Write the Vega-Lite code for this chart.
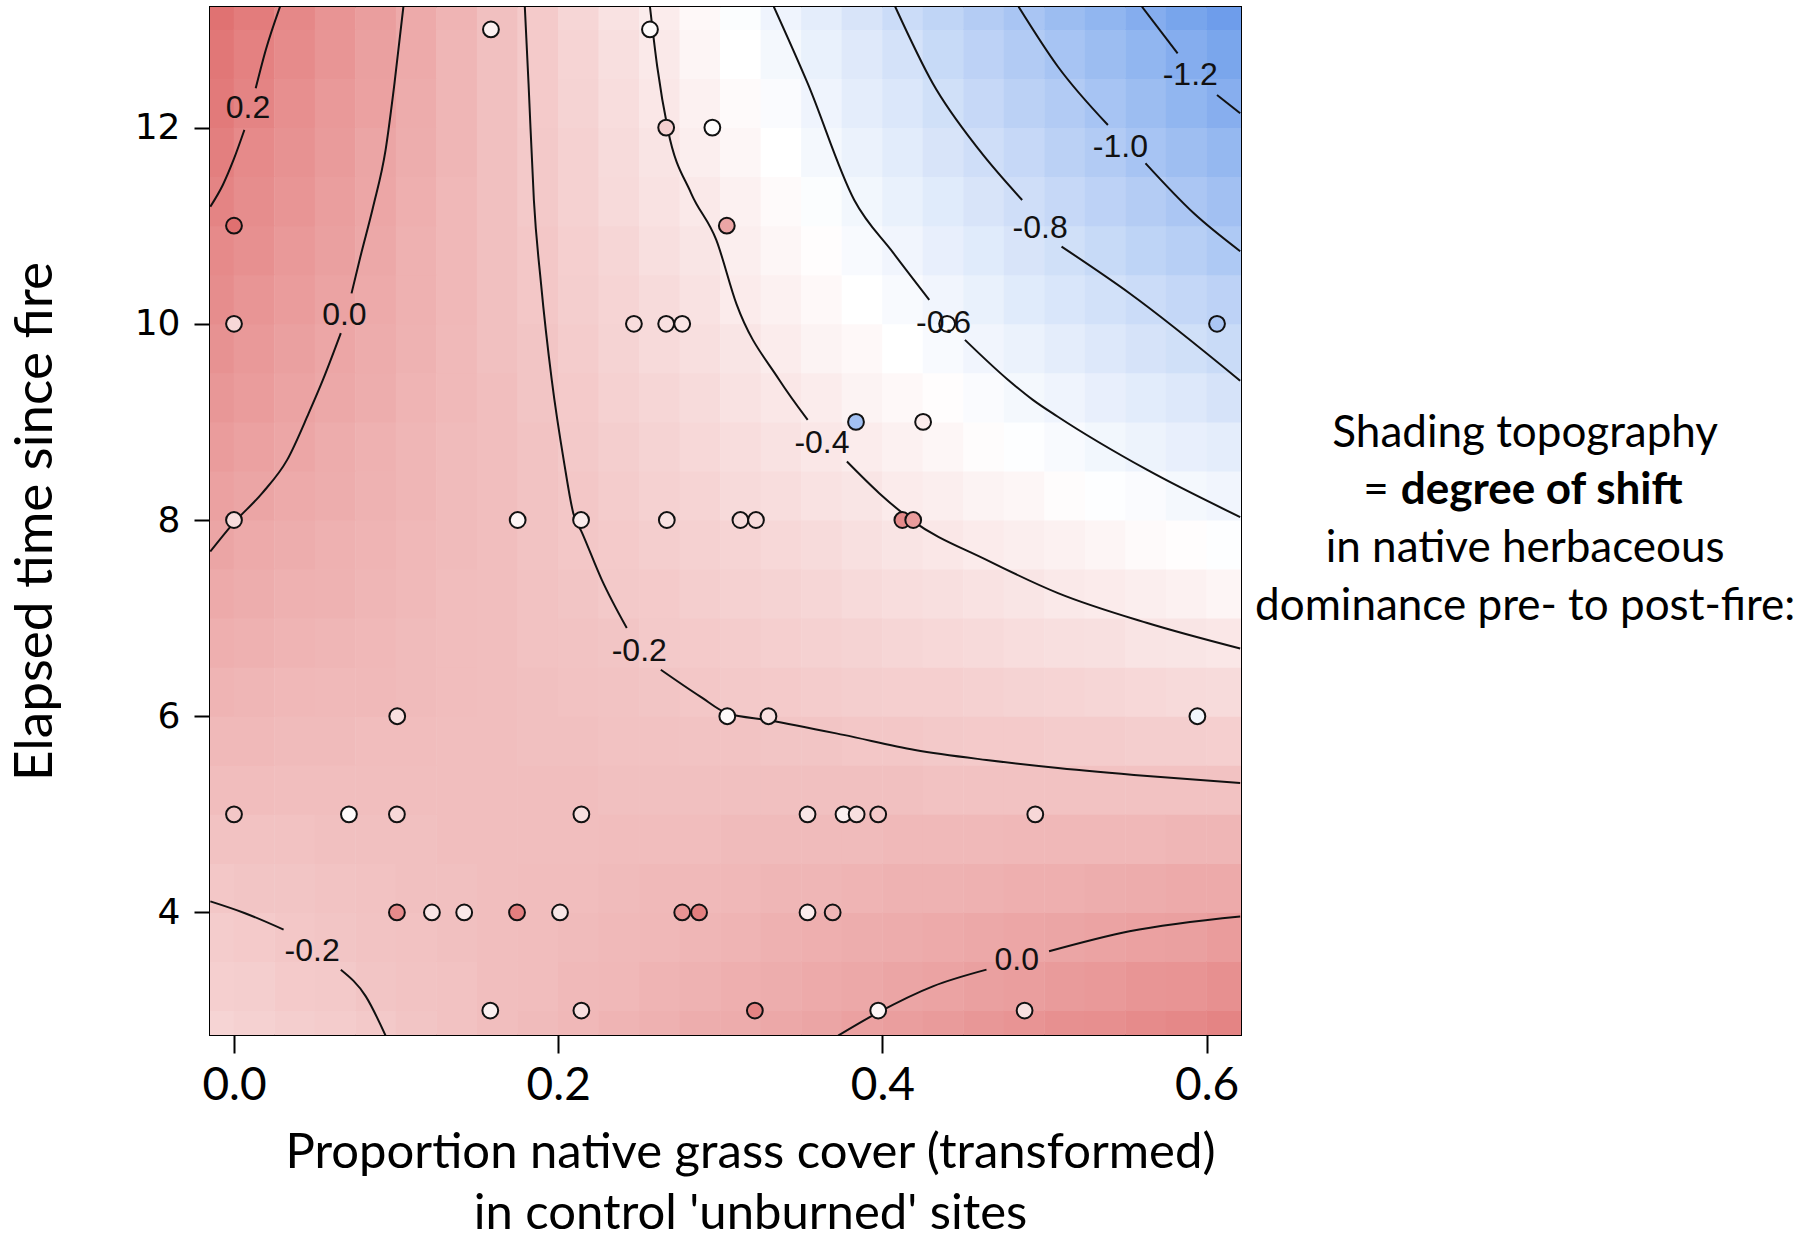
{
"$schema":"https://vega.github.io/schema/vega-lite/v6.json",
"width":1031,"height":1028,
"autosize":{"type":"none"},
"padding":{"left":210,"top":7,"right":575,"bottom":203},
"background":"white",
"config":{"view":{"stroke":"black","strokeWidth":2},"font":"Lato"},
"datasets":{
"grid":[
{"x":-0.0125,"y":2.75,"v":-0.28},{"x":-0.0125,"y":3.25,"v":-0.25},{"x":-0.0125,"y":3.75,"v":-0.23},{"x":-0.0125,"y":4.25,"v":-0.20},{"x":-0.0125,"y":4.75,"v":-0.17},{"x":-0.0125,"y":5.25,"v":-0.14},{"x":-0.0125,"y":5.75,"v":-0.12},{"x":-0.0125,"y":6.25,"v":-0.09},{"x":-0.0125,"y":6.75,"v":-0.06},{"x":-0.0125,"y":7.25,"v":-0.03},{"x":-0.0125,"y":7.75,"v":0.00},{"x":-0.0125,"y":8.25,"v":0.02},{"x":-0.0125,"y":8.75,"v":0.05},{"x":-0.0125,"y":9.25,"v":0.08},{"x":-0.0125,"y":9.75,"v":0.11},{"x":-0.0125,"y":10.25,"v":0.14},{"x":-0.0125,"y":10.75,"v":0.16},{"x":-0.0125,"y":11.25,"v":0.19},{"x":-0.0125,"y":11.75,"v":0.22},{"x":-0.0125,"y":12.25,"v":0.25},{"x":-0.0125,"y":12.75,"v":0.27},{"x":-0.0125,"y":13.25,"v":0.30},
{"x":0.0125,"y":2.75,"v":-0.26},{"x":0.0125,"y":3.25,"v":-0.24},{"x":0.0125,"y":3.75,"v":-0.22},{"x":0.0125,"y":4.25,"v":-0.19},{"x":0.0125,"y":4.75,"v":-0.17},{"x":0.0125,"y":5.25,"v":-0.14},{"x":0.0125,"y":5.75,"v":-0.12},{"x":0.0125,"y":6.25,"v":-0.10},{"x":0.0125,"y":6.75,"v":-0.07},{"x":0.0125,"y":7.25,"v":-0.05},{"x":0.0125,"y":7.75,"v":-0.03},{"x":0.0125,"y":8.25,"v":0.00},{"x":0.0125,"y":8.75,"v":0.02},{"x":0.0125,"y":9.25,"v":0.05},{"x":0.0125,"y":9.75,"v":0.07},{"x":0.0125,"y":10.25,"v":0.09},{"x":0.0125,"y":10.75,"v":0.12},{"x":0.0125,"y":11.25,"v":0.14},{"x":0.0125,"y":11.75,"v":0.16},{"x":0.0125,"y":12.25,"v":0.19},{"x":0.0125,"y":12.75,"v":0.21},{"x":0.0125,"y":13.25,"v":0.24},
{"x":0.0375,"y":2.75,"v":-0.24},{"x":0.0375,"y":3.25,"v":-0.22},{"x":0.0375,"y":3.75,"v":-0.20},{"x":0.0375,"y":4.25,"v":-0.19},{"x":0.0375,"y":4.75,"v":-0.17},{"x":0.0375,"y":5.25,"v":-0.15},{"x":0.0375,"y":5.75,"v":-0.13},{"x":0.0375,"y":6.25,"v":-0.11},{"x":0.0375,"y":6.75,"v":-0.09},{"x":0.0375,"y":7.25,"v":-0.07},{"x":0.0375,"y":7.75,"v":-0.05},{"x":0.0375,"y":8.25,"v":-0.03},{"x":0.0375,"y":8.75,"v":-0.01},{"x":0.0375,"y":9.25,"v":0.01},{"x":0.0375,"y":9.75,"v":0.03},{"x":0.0375,"y":10.25,"v":0.05},{"x":0.0375,"y":10.75,"v":0.07},{"x":0.0375,"y":11.25,"v":0.09},{"x":0.0375,"y":11.75,"v":0.11},{"x":0.0375,"y":12.25,"v":0.13},{"x":0.0375,"y":12.75,"v":0.15},{"x":0.0375,"y":13.25,"v":0.17},
{"x":0.0625,"y":2.75,"v":-0.23},{"x":0.0625,"y":3.25,"v":-0.21},{"x":0.0625,"y":3.75,"v":-0.19},{"x":0.0625,"y":4.25,"v":-0.18},{"x":0.0625,"y":4.75,"v":-0.16},{"x":0.0625,"y":5.25,"v":-0.15},{"x":0.0625,"y":5.75,"v":-0.13},{"x":0.0625,"y":6.25,"v":-0.12},{"x":0.0625,"y":6.75,"v":-0.10},{"x":0.0625,"y":7.25,"v":-0.08},{"x":0.0625,"y":7.75,"v":-0.07},{"x":0.0625,"y":8.25,"v":-0.05},{"x":0.0625,"y":8.75,"v":-0.04},{"x":0.0625,"y":9.25,"v":-0.02},{"x":0.0625,"y":9.75,"v":-0.01},{"x":0.0625,"y":10.25,"v":0.01},{"x":0.0625,"y":10.75,"v":0.03},{"x":0.0625,"y":11.25,"v":0.04},{"x":0.0625,"y":11.75,"v":0.06},{"x":0.0625,"y":12.25,"v":0.07},{"x":0.0625,"y":12.75,"v":0.09},{"x":0.0625,"y":13.25,"v":0.10},
{"x":0.0875,"y":2.75,"v":-0.21},{"x":0.0875,"y":3.25,"v":-0.19},{"x":0.0875,"y":3.75,"v":-0.18},{"x":0.0875,"y":4.25,"v":-0.17},{"x":0.0875,"y":4.75,"v":-0.16},{"x":0.0875,"y":5.25,"v":-0.15},{"x":0.0875,"y":5.75,"v":-0.14},{"x":0.0875,"y":6.25,"v":-0.12},{"x":0.0875,"y":6.75,"v":-0.11},{"x":0.0875,"y":7.25,"v":-0.10},{"x":0.0875,"y":7.75,"v":-0.09},{"x":0.0875,"y":8.25,"v":-0.08},{"x":0.0875,"y":8.75,"v":-0.07},{"x":0.0875,"y":9.25,"v":-0.05},{"x":0.0875,"y":9.75,"v":-0.04},{"x":0.0875,"y":10.25,"v":-0.03},{"x":0.0875,"y":10.75,"v":-0.02},{"x":0.0875,"y":11.25,"v":-0.01},{"x":0.0875,"y":11.75,"v":0.00},{"x":0.0875,"y":12.25,"v":0.02},{"x":0.0875,"y":12.75,"v":0.03},{"x":0.0875,"y":13.25,"v":0.04},
{"x":0.1125,"y":2.75,"v":-0.19},{"x":0.1125,"y":3.25,"v":-0.18},{"x":0.1125,"y":3.75,"v":-0.17},{"x":0.1125,"y":4.25,"v":-0.16},{"x":0.1125,"y":4.75,"v":-0.16},{"x":0.1125,"y":5.25,"v":-0.15},{"x":0.1125,"y":5.75,"v":-0.14},{"x":0.1125,"y":6.25,"v":-0.13},{"x":0.1125,"y":6.75,"v":-0.13},{"x":0.1125,"y":7.25,"v":-0.12},{"x":0.1125,"y":7.75,"v":-0.11},{"x":0.1125,"y":8.25,"v":-0.10},{"x":0.1125,"y":8.75,"v":-0.10},{"x":0.1125,"y":9.25,"v":-0.09},{"x":0.1125,"y":9.75,"v":-0.08},{"x":0.1125,"y":10.25,"v":-0.07},{"x":0.1125,"y":10.75,"v":-0.07},{"x":0.1125,"y":11.25,"v":-0.06},{"x":0.1125,"y":11.75,"v":-0.05},{"x":0.1125,"y":12.25,"v":-0.04},{"x":0.1125,"y":12.75,"v":-0.03},{"x":0.1125,"y":13.25,"v":-0.03},
{"x":0.1375,"y":2.75,"v":-0.17},{"x":0.1375,"y":3.25,"v":-0.17},{"x":0.1375,"y":3.75,"v":-0.16},{"x":0.1375,"y":4.25,"v":-0.16},{"x":0.1375,"y":4.75,"v":-0.15},{"x":0.1375,"y":5.25,"v":-0.15},{"x":0.1375,"y":5.75,"v":-0.15},{"x":0.1375,"y":6.25,"v":-0.14},{"x":0.1375,"y":6.75,"v":-0.14},{"x":0.1375,"y":7.25,"v":-0.14},{"x":0.1375,"y":7.75,"v":-0.13},{"x":0.1375,"y":8.25,"v":-0.13},{"x":0.1375,"y":8.75,"v":-0.13},{"x":0.1375,"y":9.25,"v":-0.12},{"x":0.1375,"y":9.75,"v":-0.12},{"x":0.1375,"y":10.25,"v":-0.11},{"x":0.1375,"y":10.75,"v":-0.11},{"x":0.1375,"y":11.25,"v":-0.11},{"x":0.1375,"y":11.75,"v":-0.10},{"x":0.1375,"y":12.25,"v":-0.10},{"x":0.1375,"y":12.75,"v":-0.10},{"x":0.1375,"y":13.25,"v":-0.09},
{"x":0.1625,"y":2.75,"v":-0.15},{"x":0.1625,"y":3.25,"v":-0.15},{"x":0.1625,"y":3.75,"v":-0.15},{"x":0.1625,"y":4.25,"v":-0.15},{"x":0.1625,"y":4.75,"v":-0.15},{"x":0.1625,"y":5.25,"v":-0.15},{"x":0.1625,"y":5.75,"v":-0.15},{"x":0.1625,"y":6.25,"v":-0.15},{"x":0.1625,"y":6.75,"v":-0.15},{"x":0.1625,"y":7.25,"v":-0.15},{"x":0.1625,"y":7.75,"v":-0.15},{"x":0.1625,"y":8.25,"v":-0.15},{"x":0.1625,"y":8.75,"v":-0.15},{"x":0.1625,"y":9.25,"v":-0.15},{"x":0.1625,"y":9.75,"v":-0.16},{"x":0.1625,"y":10.25,"v":-0.16},{"x":0.1625,"y":10.75,"v":-0.16},{"x":0.1625,"y":11.25,"v":-0.16},{"x":0.1625,"y":11.75,"v":-0.16},{"x":0.1625,"y":12.25,"v":-0.16},{"x":0.1625,"y":12.75,"v":-0.16},{"x":0.1625,"y":13.25,"v":-0.16},
{"x":0.1875,"y":2.75,"v":-0.13},{"x":0.1875,"y":3.25,"v":-0.14},{"x":0.1875,"y":3.75,"v":-0.14},{"x":0.1875,"y":4.25,"v":-0.14},{"x":0.1875,"y":4.75,"v":-0.15},{"x":0.1875,"y":5.25,"v":-0.15},{"x":0.1875,"y":5.75,"v":-0.16},{"x":0.1875,"y":6.25,"v":-0.16},{"x":0.1875,"y":6.75,"v":-0.17},{"x":0.1875,"y":7.25,"v":-0.17},{"x":0.1875,"y":7.75,"v":-0.18},{"x":0.1875,"y":8.25,"v":-0.18},{"x":0.1875,"y":8.75,"v":-0.18},{"x":0.1875,"y":9.25,"v":-0.19},{"x":0.1875,"y":9.75,"v":-0.19},{"x":0.1875,"y":10.25,"v":-0.20},{"x":0.1875,"y":10.75,"v":-0.20},{"x":0.1875,"y":11.25,"v":-0.21},{"x":0.1875,"y":11.75,"v":-0.21},{"x":0.1875,"y":12.25,"v":-0.22},{"x":0.1875,"y":12.75,"v":-0.22},{"x":0.1875,"y":13.25,"v":-0.22},
{"x":0.2125,"y":2.75,"v":-0.11},{"x":0.2125,"y":3.25,"v":-0.12},{"x":0.2125,"y":3.75,"v":-0.13},{"x":0.2125,"y":4.25,"v":-0.14},{"x":0.2125,"y":4.75,"v":-0.15},{"x":0.2125,"y":5.25,"v":-0.15},{"x":0.2125,"y":5.75,"v":-0.16},{"x":0.2125,"y":6.25,"v":-0.17},{"x":0.2125,"y":6.75,"v":-0.18},{"x":0.2125,"y":7.25,"v":-0.19},{"x":0.2125,"y":7.75,"v":-0.20},{"x":0.2125,"y":8.25,"v":-0.20},{"x":0.2125,"y":8.75,"v":-0.21},{"x":0.2125,"y":9.25,"v":-0.22},{"x":0.2125,"y":9.75,"v":-0.23},{"x":0.2125,"y":10.25,"v":-0.24},{"x":0.2125,"y":10.75,"v":-0.25},{"x":0.2125,"y":11.25,"v":-0.26},{"x":0.2125,"y":11.75,"v":-0.26},{"x":0.2125,"y":12.25,"v":-0.27},{"x":0.2125,"y":12.75,"v":-0.28},{"x":0.2125,"y":13.25,"v":-0.29},
{"x":0.2375,"y":2.75,"v":-0.09},{"x":0.2375,"y":3.25,"v":-0.11},{"x":0.2375,"y":3.75,"v":-0.12},{"x":0.2375,"y":4.25,"v":-0.13},{"x":0.2375,"y":4.75,"v":-0.14},{"x":0.2375,"y":5.25,"v":-0.16},{"x":0.2375,"y":5.75,"v":-0.17},{"x":0.2375,"y":6.25,"v":-0.18},{"x":0.2375,"y":6.75,"v":-0.19},{"x":0.2375,"y":7.25,"v":-0.21},{"x":0.2375,"y":7.75,"v":-0.22},{"x":0.2375,"y":8.25,"v":-0.23},{"x":0.2375,"y":8.75,"v":-0.24},{"x":0.2375,"y":9.25,"v":-0.26},{"x":0.2375,"y":9.75,"v":-0.27},{"x":0.2375,"y":10.25,"v":-0.28},{"x":0.2375,"y":10.75,"v":-0.29},{"x":0.2375,"y":11.25,"v":-0.31},{"x":0.2375,"y":11.75,"v":-0.32},{"x":0.2375,"y":12.25,"v":-0.33},{"x":0.2375,"y":12.75,"v":-0.34},{"x":0.2375,"y":13.25,"v":-0.36},
{"x":0.2625,"y":2.75,"v":-0.07},{"x":0.2625,"y":3.25,"v":-0.09},{"x":0.2625,"y":3.75,"v":-0.11},{"x":0.2625,"y":4.25,"v":-0.12},{"x":0.2625,"y":4.75,"v":-0.14},{"x":0.2625,"y":5.25,"v":-0.16},{"x":0.2625,"y":5.75,"v":-0.17},{"x":0.2625,"y":6.25,"v":-0.19},{"x":0.2625,"y":6.75,"v":-0.21},{"x":0.2625,"y":7.25,"v":-0.22},{"x":0.2625,"y":7.75,"v":-0.24},{"x":0.2625,"y":8.25,"v":-0.26},{"x":0.2625,"y":8.75,"v":-0.27},{"x":0.2625,"y":9.25,"v":-0.29},{"x":0.2625,"y":9.75,"v":-0.31},{"x":0.2625,"y":10.25,"v":-0.32},{"x":0.2625,"y":10.75,"v":-0.34},{"x":0.2625,"y":11.25,"v":-0.36},{"x":0.2625,"y":11.75,"v":-0.37},{"x":0.2625,"y":12.25,"v":-0.39},{"x":0.2625,"y":12.75,"v":-0.40},{"x":0.2625,"y":13.25,"v":-0.42},
{"x":0.2875,"y":2.75,"v":-0.05},{"x":0.2875,"y":3.25,"v":-0.08},{"x":0.2875,"y":3.75,"v":-0.10},{"x":0.2875,"y":4.25,"v":-0.12},{"x":0.2875,"y":4.75,"v":-0.14},{"x":0.2875,"y":5.25,"v":-0.16},{"x":0.2875,"y":5.75,"v":-0.18},{"x":0.2875,"y":6.25,"v":-0.20},{"x":0.2875,"y":6.75,"v":-0.22},{"x":0.2875,"y":7.25,"v":-0.24},{"x":0.2875,"y":7.75,"v":-0.26},{"x":0.2875,"y":8.25,"v":-0.28},{"x":0.2875,"y":8.75,"v":-0.30},{"x":0.2875,"y":9.25,"v":-0.32},{"x":0.2875,"y":9.75,"v":-0.34},{"x":0.2875,"y":10.25,"v":-0.36},{"x":0.2875,"y":10.75,"v":-0.38},{"x":0.2875,"y":11.25,"v":-0.40},{"x":0.2875,"y":11.75,"v":-0.43},{"x":0.2875,"y":12.25,"v":-0.45},{"x":0.2875,"y":12.75,"v":-0.47},{"x":0.2875,"y":13.25,"v":-0.49},
{"x":0.3125,"y":2.75,"v":-0.04},{"x":0.3125,"y":3.25,"v":-0.06},{"x":0.3125,"y":3.75,"v":-0.09},{"x":0.3125,"y":4.25,"v":-0.11},{"x":0.3125,"y":4.75,"v":-0.13},{"x":0.3125,"y":5.25,"v":-0.16},{"x":0.3125,"y":5.75,"v":-0.18},{"x":0.3125,"y":6.25,"v":-0.21},{"x":0.3125,"y":6.75,"v":-0.23},{"x":0.3125,"y":7.25,"v":-0.26},{"x":0.3125,"y":7.75,"v":-0.28},{"x":0.3125,"y":8.25,"v":-0.31},{"x":0.3125,"y":8.75,"v":-0.33},{"x":0.3125,"y":9.25,"v":-0.36},{"x":0.3125,"y":9.75,"v":-0.38},{"x":0.3125,"y":10.25,"v":-0.41},{"x":0.3125,"y":10.75,"v":-0.43},{"x":0.3125,"y":11.25,"v":-0.45},{"x":0.3125,"y":11.75,"v":-0.48},{"x":0.3125,"y":12.25,"v":-0.50},{"x":0.3125,"y":12.75,"v":-0.53},{"x":0.3125,"y":13.25,"v":-0.55},
{"x":0.3375,"y":2.75,"v":-0.02},{"x":0.3375,"y":3.25,"v":-0.05},{"x":0.3375,"y":3.75,"v":-0.07},{"x":0.3375,"y":4.25,"v":-0.10},{"x":0.3375,"y":4.75,"v":-0.13},{"x":0.3375,"y":5.25,"v":-0.16},{"x":0.3375,"y":5.75,"v":-0.19},{"x":0.3375,"y":6.25,"v":-0.22},{"x":0.3375,"y":6.75,"v":-0.25},{"x":0.3375,"y":7.25,"v":-0.27},{"x":0.3375,"y":7.75,"v":-0.30},{"x":0.3375,"y":8.25,"v":-0.33},{"x":0.3375,"y":8.75,"v":-0.36},{"x":0.3375,"y":9.25,"v":-0.39},{"x":0.3375,"y":9.75,"v":-0.42},{"x":0.3375,"y":10.25,"v":-0.45},{"x":0.3375,"y":10.75,"v":-0.48},{"x":0.3375,"y":11.25,"v":-0.50},{"x":0.3375,"y":11.75,"v":-0.53},{"x":0.3375,"y":12.25,"v":-0.56},{"x":0.3375,"y":12.75,"v":-0.59},{"x":0.3375,"y":13.25,"v":-0.62},
{"x":0.3625,"y":2.75,"v":0.00},{"x":0.3625,"y":3.25,"v":-0.03},{"x":0.3625,"y":3.75,"v":-0.06},{"x":0.3625,"y":4.25,"v":-0.10},{"x":0.3625,"y":4.75,"v":-0.13},{"x":0.3625,"y":5.25,"v":-0.16},{"x":0.3625,"y":5.75,"v":-0.19},{"x":0.3625,"y":6.25,"v":-0.23},{"x":0.3625,"y":6.75,"v":-0.26},{"x":0.3625,"y":7.25,"v":-0.29},{"x":0.3625,"y":7.75,"v":-0.32},{"x":0.3625,"y":8.25,"v":-0.36},{"x":0.3625,"y":8.75,"v":-0.39},{"x":0.3625,"y":9.25,"v":-0.42},{"x":0.3625,"y":9.75,"v":-0.46},{"x":0.3625,"y":10.25,"v":-0.49},{"x":0.3625,"y":10.75,"v":-0.52},{"x":0.3625,"y":11.25,"v":-0.55},{"x":0.3625,"y":11.75,"v":-0.59},{"x":0.3625,"y":12.25,"v":-0.62},{"x":0.3625,"y":12.75,"v":-0.65},{"x":0.3625,"y":13.25,"v":-0.68},
{"x":0.3875,"y":2.75,"v":0.02},{"x":0.3875,"y":3.25,"v":-0.02},{"x":0.3875,"y":3.75,"v":-0.05},{"x":0.3875,"y":4.25,"v":-0.09},{"x":0.3875,"y":4.75,"v":-0.13},{"x":0.3875,"y":5.25,"v":-0.16},{"x":0.3875,"y":5.75,"v":-0.20},{"x":0.3875,"y":6.25,"v":-0.24},{"x":0.3875,"y":6.75,"v":-0.27},{"x":0.3875,"y":7.25,"v":-0.31},{"x":0.3875,"y":7.75,"v":-0.35},{"x":0.3875,"y":8.25,"v":-0.38},{"x":0.3875,"y":8.75,"v":-0.42},{"x":0.3875,"y":9.25,"v":-0.46},{"x":0.3875,"y":9.75,"v":-0.49},{"x":0.3875,"y":10.25,"v":-0.53},{"x":0.3875,"y":10.75,"v":-0.57},{"x":0.3875,"y":11.25,"v":-0.60},{"x":0.3875,"y":11.75,"v":-0.64},{"x":0.3875,"y":12.25,"v":-0.68},{"x":0.3875,"y":12.75,"v":-0.71},{"x":0.3875,"y":13.25,"v":-0.75},
{"x":0.4125,"y":2.75,"v":0.04},{"x":0.4125,"y":3.25,"v":0.00},{"x":0.4125,"y":3.75,"v":-0.04},{"x":0.4125,"y":4.25,"v":-0.08},{"x":0.4125,"y":4.75,"v":-0.12},{"x":0.4125,"y":5.25,"v":-0.16},{"x":0.4125,"y":5.75,"v":-0.20},{"x":0.4125,"y":6.25,"v":-0.25},{"x":0.4125,"y":6.75,"v":-0.29},{"x":0.4125,"y":7.25,"v":-0.33},{"x":0.4125,"y":7.75,"v":-0.37},{"x":0.4125,"y":8.25,"v":-0.41},{"x":0.4125,"y":8.75,"v":-0.45},{"x":0.4125,"y":9.25,"v":-0.49},{"x":0.4125,"y":9.75,"v":-0.53},{"x":0.4125,"y":10.25,"v":-0.57},{"x":0.4125,"y":10.75,"v":-0.61},{"x":0.4125,"y":11.25,"v":-0.65},{"x":0.4125,"y":11.75,"v":-0.69},{"x":0.4125,"y":12.25,"v":-0.73},{"x":0.4125,"y":12.75,"v":-0.77},{"x":0.4125,"y":13.25,"v":-0.82},
{"x":0.4375,"y":2.75,"v":0.06},{"x":0.4375,"y":3.25,"v":0.01},{"x":0.4375,"y":3.75,"v":-0.03},{"x":0.4375,"y":4.25,"v":-0.08},{"x":0.4375,"y":4.75,"v":-0.12},{"x":0.4375,"y":5.25,"v":-0.17},{"x":0.4375,"y":5.75,"v":-0.21},{"x":0.4375,"y":6.25,"v":-0.25},{"x":0.4375,"y":6.75,"v":-0.30},{"x":0.4375,"y":7.25,"v":-0.34},{"x":0.4375,"y":7.75,"v":-0.39},{"x":0.4375,"y":8.25,"v":-0.43},{"x":0.4375,"y":8.75,"v":-0.48},{"x":0.4375,"y":9.25,"v":-0.52},{"x":0.4375,"y":9.75,"v":-0.57},{"x":0.4375,"y":10.25,"v":-0.61},{"x":0.4375,"y":10.75,"v":-0.66},{"x":0.4375,"y":11.25,"v":-0.70},{"x":0.4375,"y":11.75,"v":-0.75},{"x":0.4375,"y":12.25,"v":-0.79},{"x":0.4375,"y":12.75,"v":-0.84},{"x":0.4375,"y":13.25,"v":-0.88},
{"x":0.4625,"y":2.75,"v":0.08},{"x":0.4625,"y":3.25,"v":0.03},{"x":0.4625,"y":3.75,"v":-0.02},{"x":0.4625,"y":4.25,"v":-0.07},{"x":0.4625,"y":4.75,"v":-0.12},{"x":0.4625,"y":5.25,"v":-0.17},{"x":0.4625,"y":5.75,"v":-0.22},{"x":0.4625,"y":6.25,"v":-0.26},{"x":0.4625,"y":6.75,"v":-0.31},{"x":0.4625,"y":7.25,"v":-0.36},{"x":0.4625,"y":7.75,"v":-0.41},{"x":0.4625,"y":8.25,"v":-0.46},{"x":0.4625,"y":8.75,"v":-0.51},{"x":0.4625,"y":9.25,"v":-0.56},{"x":0.4625,"y":9.75,"v":-0.61},{"x":0.4625,"y":10.25,"v":-0.65},{"x":0.4625,"y":10.75,"v":-0.70},{"x":0.4625,"y":11.25,"v":-0.75},{"x":0.4625,"y":11.75,"v":-0.80},{"x":0.4625,"y":12.25,"v":-0.85},{"x":0.4625,"y":12.75,"v":-0.90},{"x":0.4625,"y":13.25,"v":-0.95},
{"x":0.4875,"y":2.75,"v":0.10},{"x":0.4875,"y":3.25,"v":0.04},{"x":0.4875,"y":3.75,"v":-0.01},{"x":0.4875,"y":4.25,"v":-0.06},{"x":0.4875,"y":4.75,"v":-0.11},{"x":0.4875,"y":5.25,"v":-0.17},{"x":0.4875,"y":5.75,"v":-0.22},{"x":0.4875,"y":6.25,"v":-0.27},{"x":0.4875,"y":6.75,"v":-0.33},{"x":0.4875,"y":7.25,"v":-0.38},{"x":0.4875,"y":7.75,"v":-0.43},{"x":0.4875,"y":8.25,"v":-0.48},{"x":0.4875,"y":8.75,"v":-0.54},{"x":0.4875,"y":9.25,"v":-0.59},{"x":0.4875,"y":9.75,"v":-0.64},{"x":0.4875,"y":10.25,"v":-0.70},{"x":0.4875,"y":10.75,"v":-0.75},{"x":0.4875,"y":11.25,"v":-0.80},{"x":0.4875,"y":11.75,"v":-0.85},{"x":0.4875,"y":12.25,"v":-0.91},{"x":0.4875,"y":12.75,"v":-0.96},{"x":0.4875,"y":13.25,"v":-1.01},
{"x":0.5125,"y":2.75,"v":0.12},{"x":0.5125,"y":3.25,"v":0.06},{"x":0.5125,"y":3.75,"v":0.00},{"x":0.5125,"y":4.25,"v":-0.06},{"x":0.5125,"y":4.75,"v":-0.11},{"x":0.5125,"y":5.25,"v":-0.17},{"x":0.5125,"y":5.75,"v":-0.23},{"x":0.5125,"y":6.25,"v":-0.28},{"x":0.5125,"y":6.75,"v":-0.34},{"x":0.5125,"y":7.25,"v":-0.40},{"x":0.5125,"y":7.75,"v":-0.45},{"x":0.5125,"y":8.25,"v":-0.51},{"x":0.5125,"y":8.75,"v":-0.57},{"x":0.5125,"y":9.25,"v":-0.62},{"x":0.5125,"y":9.75,"v":-0.68},{"x":0.5125,"y":10.25,"v":-0.74},{"x":0.5125,"y":10.75,"v":-0.79},{"x":0.5125,"y":11.25,"v":-0.85},{"x":0.5125,"y":11.75,"v":-0.91},{"x":0.5125,"y":12.25,"v":-0.96},{"x":0.5125,"y":12.75,"v":-1.02},{"x":0.5125,"y":13.25,"v":-1.08},
{"x":0.5375,"y":2.75,"v":0.13},{"x":0.5375,"y":3.25,"v":0.07},{"x":0.5375,"y":3.75,"v":0.01},{"x":0.5375,"y":4.25,"v":-0.05},{"x":0.5375,"y":4.75,"v":-0.11},{"x":0.5375,"y":5.25,"v":-0.17},{"x":0.5375,"y":5.75,"v":-0.23},{"x":0.5375,"y":6.25,"v":-0.29},{"x":0.5375,"y":6.75,"v":-0.35},{"x":0.5375,"y":7.25,"v":-0.41},{"x":0.5375,"y":7.75,"v":-0.47},{"x":0.5375,"y":8.25,"v":-0.54},{"x":0.5375,"y":8.75,"v":-0.60},{"x":0.5375,"y":9.25,"v":-0.66},{"x":0.5375,"y":9.75,"v":-0.72},{"x":0.5375,"y":10.25,"v":-0.78},{"x":0.5375,"y":10.75,"v":-0.84},{"x":0.5375,"y":11.25,"v":-0.90},{"x":0.5375,"y":11.75,"v":-0.96},{"x":0.5375,"y":12.25,"v":-1.02},{"x":0.5375,"y":12.75,"v":-1.08},{"x":0.5375,"y":13.25,"v":-1.14},
{"x":0.5625,"y":2.75,"v":0.15},{"x":0.5625,"y":3.25,"v":0.09},{"x":0.5625,"y":3.75,"v":0.02},{"x":0.5625,"y":4.25,"v":-0.04},{"x":0.5625,"y":4.75,"v":-0.11},{"x":0.5625,"y":5.25,"v":-0.17},{"x":0.5625,"y":5.75,"v":-0.24},{"x":0.5625,"y":6.25,"v":-0.30},{"x":0.5625,"y":6.75,"v":-0.37},{"x":0.5625,"y":7.25,"v":-0.43},{"x":0.5625,"y":7.75,"v":-0.50},{"x":0.5625,"y":8.25,"v":-0.56},{"x":0.5625,"y":8.75,"v":-0.63},{"x":0.5625,"y":9.25,"v":-0.69},{"x":0.5625,"y":9.75,"v":-0.76},{"x":0.5625,"y":10.25,"v":-0.82},{"x":0.5625,"y":10.75,"v":-0.89},{"x":0.5625,"y":11.25,"v":-0.95},{"x":0.5625,"y":11.75,"v":-1.02},{"x":0.5625,"y":12.25,"v":-1.08},{"x":0.5625,"y":12.75,"v":-1.14},{"x":0.5625,"y":13.25,"v":-1.21},
{"x":0.5875,"y":2.75,"v":0.17},{"x":0.5875,"y":3.25,"v":0.10},{"x":0.5875,"y":3.75,"v":0.03},{"x":0.5875,"y":4.25,"v":-0.03},{"x":0.5875,"y":4.75,"v":-0.10},{"x":0.5875,"y":5.25,"v":-0.17},{"x":0.5875,"y":5.75,"v":-0.24},{"x":0.5875,"y":6.25,"v":-0.31},{"x":0.5875,"y":6.75,"v":-0.38},{"x":0.5875,"y":7.25,"v":-0.45},{"x":0.5875,"y":7.75,"v":-0.52},{"x":0.5875,"y":8.25,"v":-0.59},{"x":0.5875,"y":8.75,"v":-0.66},{"x":0.5875,"y":9.25,"v":-0.72},{"x":0.5875,"y":9.75,"v":-0.79},{"x":0.5875,"y":10.25,"v":-0.86},{"x":0.5875,"y":10.75,"v":-0.93},{"x":0.5875,"y":11.25,"v":-1.00},{"x":0.5875,"y":11.75,"v":-1.07},{"x":0.5875,"y":12.25,"v":-1.14},{"x":0.5875,"y":12.75,"v":-1.21},{"x":0.5875,"y":13.25,"v":-1.28},
{"x":0.6125,"y":2.75,"v":0.19},{"x":0.6125,"y":3.25,"v":0.12},{"x":0.6125,"y":3.75,"v":0.05},{"x":0.6125,"y":4.25,"v":-0.03},{"x":0.6125,"y":4.75,"v":-0.10},{"x":0.6125,"y":5.25,"v":-0.17},{"x":0.6125,"y":5.75,"v":-0.25},{"x":0.6125,"y":6.25,"v":-0.32},{"x":0.6125,"y":6.75,"v":-0.39},{"x":0.6125,"y":7.25,"v":-0.47},{"x":0.6125,"y":7.75,"v":-0.54},{"x":0.6125,"y":8.25,"v":-0.61},{"x":0.6125,"y":8.75,"v":-0.68},{"x":0.6125,"y":9.25,"v":-0.76},{"x":0.6125,"y":9.75,"v":-0.83},{"x":0.6125,"y":10.25,"v":-0.90},{"x":0.6125,"y":10.75,"v":-0.98},{"x":0.6125,"y":11.25,"v":-1.05},{"x":0.6125,"y":11.75,"v":-1.12},{"x":0.6125,"y":12.25,"v":-1.20},{"x":0.6125,"y":12.75,"v":-1.27},{"x":0.6125,"y":13.25,"v":-1.34}
],
"lines":[
{"c":"a1","x":0.0284,"y":13.232},{"c":"a1","x":0.0196,"y":12.79},{"c":"a1","x":0.0134,"y":12.40},
{"c":"a2","x":0.0064,"y":11.976},{"c":"a2","x":-0.0003,"y":11.67},{"c":"a2","x":-0.0069,"y":11.415},{"c":"a2","x":-0.0146,"y":11.194},
{"c":"b1","x":0.1045,"y":13.232},{"c":"b1","x":0.099,"y":12.45},{"c":"b1","x":0.0935,"y":11.77},{"c":"b1","x":0.0858,"y":11.19},{"c":"b1","x":0.078,"y":10.685},{"c":"b1","x":0.0725,"y":10.31},
{"c":"b2","x":0.0659,"y":9.904},{"c":"b2","x":0.0549,"y":9.43},{"c":"b2","x":0.0461,"y":9.089},{"c":"b2","x":0.0328,"y":8.613},{"c":"b2","x":0.0174,"y":8.274},{"c":"b2","x":-0.0003,"y":7.968},{"c":"b2","x":-0.0146,"y":7.679},
{"c":"c1","x":0.1794,"y":13.232},{"c":"c1","x":0.1817,"y":12.45},{"c":"c1","x":0.185,"y":11.26},{"c":"c1","x":0.1894,"y":10.41},{"c":"c1","x":0.196,"y":9.43},{"c":"c1","x":0.2037,"y":8.58},{"c":"c1","x":0.2093,"y":8.07},{"c":"c1","x":0.2148,"y":7.867},{"c":"c1","x":0.2269,"y":7.39},{"c":"c1","x":0.2423,"y":6.899},
{"c":"c2","x":0.2633,"y":6.474},{"c":"c2","x":0.2877,"y":6.2},{"c":"c2","x":0.3043,"y":6.03},{"c":"c2","x":0.3297,"y":5.96},{"c":"c2","x":0.376,"y":5.81},{"c":"c2","x":0.4201,"y":5.656},{"c":"c2","x":0.4642,"y":5.554},{"c":"c2","x":0.5083,"y":5.472},{"c":"c2","x":0.5634,"y":5.39},{"c":"c2","x":0.6207,"y":5.32},
{"c":"d1","x":0.2566,"y":13.232},{"c":"d1","x":0.2611,"y":12.62},{"c":"d1","x":0.2677,"y":11.976},{"c":"d1","x":0.282,"y":11.33},{"c":"d1","x":0.2975,"y":10.855},{"c":"d1","x":0.31,"y":10.2},{"c":"d1","x":0.3363,"y":9.43},{"c":"d1","x":0.3539,"y":9.021},
{"c":"d2","x":0.3781,"y":8.596},{"c":"d2","x":0.398,"y":8.274},{"c":"d2","x":0.4178,"y":8.002},{"c":"d2","x":0.4642,"y":7.594},{"c":"d2","x":0.5083,"y":7.255},{"c":"d2","x":0.5634,"y":6.95},{"c":"d2","x":0.6207,"y":6.69},
{"c":"e1","x":0.333,"y":13.232},{"c":"e1","x":0.3539,"y":12.45},{"c":"e1","x":0.3826,"y":11.262},{"c":"e1","x":0.4068,"y":10.72},{"c":"e1","x":0.4289,"y":10.244},
{"c":"e2","x":0.4509,"y":9.836},{"c":"e2","x":0.4774,"y":9.43},{"c":"e2","x":0.4928,"y":9.225},{"c":"e2","x":0.508,"y":9.055},{"c":"e2","x":0.5634,"y":8.51},{"c":"e2","x":0.6207,"y":8.03},
{"c":"f1","x":0.4079,"y":13.232},{"c":"f1","x":0.4311,"y":12.45},{"c":"f1","x":0.4598,"y":11.77},{"c":"f1","x":0.4862,"y":11.262},
{"c":"f2","x":0.5105,"y":10.787},{"c":"f2","x":0.5524,"y":10.312},{"c":"f2","x":0.6207,"y":9.42},
{"c":"g1","x":0.484,"y":13.232},{"c":"g1","x":0.5083,"y":12.62},{"c":"g1","x":0.5391,"y":12.026},
{"c":"g2","x":0.5623,"y":11.636},{"c":"g2","x":0.5921,"y":11.127},{"c":"g2","x":0.6207,"y":10.74},
{"c":"h1","x":0.5601,"y":13.232},{"c":"h1","x":0.5821,"y":12.757},
{"c":"h2","x":0.6064,"y":12.332},{"c":"h2","x":0.6207,"y":12.146},
{"c":"i1","x":-0.0146,"y":4.113},{"c":"i1","x":0.0064,"y":3.995},{"c":"i1","x":0.0306,"y":3.825},
{"c":"i2","x":0.0659,"y":3.417},{"c":"i2","x":0.0813,"y":3.145},{"c":"i2","x":0.0935,"y":2.745},
{"c":"j1","x":0.3727,"y":2.745},{"c":"j1","x":0.3969,"y":2.976},{"c":"j1","x":0.4311,"y":3.247},{"c":"j1","x":0.4642,"y":3.417},
{"c":"j2","x":0.5028,"y":3.604},{"c":"j2","x":0.5524,"y":3.808},{"c":"j2","x":0.6207,"y":3.96}
],
"labels":[
{"t":"0.2","x":0.0086,"y":12.197},{"t":"0.0","x":0.0681,"y":10.09},{"t":"-0.2","x":0.25,"y":6.66},{"t":"-0.4","x":0.3627,"y":8.783},{"t":"-0.6","x":0.4377,"y":10.006},{"t":"-0.8","x":0.4973,"y":10.974},{"t":"-1.0","x":0.5468,"y":11.805},{"t":"-1.2","x":0.5899,"y":12.536},{"t":"-0.2","x":0.0482,"y":3.604},{"t":"0.0","x":0.4829,"y":3.519}
],
"pts":[
{"x":0.1585,"y":13,"v":-0.45},{"x":0.2566,"y":13,"v":-0.5},
{"x":0.2666,"y":12,"v":-0.25},{"x":0.2951,"y":12,"v":-0.52},
{"x":0.0,"y":11,"v":0.31},{"x":0.304,"y":11,"v":0.0},
{"x":0.0,"y":10,"v":-0.3},{"x":0.2467,"y":10,"v":-0.33},{"x":0.2666,"y":10,"v":-0.35},{"x":0.2765,"y":10,"v":-0.38},{"x":0.4399,"y":10,"v":-0.55},{"x":0.6064,"y":10,"v":-1.0},
{"x":0.3837,"y":9,"v":-1.05},{"x":0.4251,"y":9,"v":-0.42},
{"x":0.0,"y":8,"v":-0.33},{"x":0.175,"y":8,"v":-0.48},{"x":0.2141,"y":8,"v":-0.42},{"x":0.267,"y":8,"v":-0.36},{"x":0.3124,"y":8,"v":-0.32},{"x":0.322,"y":8,"v":-0.32},{"x":0.4123,"y":8,"v":0.15},{"x":0.419,"y":8,"v":0.05},
{"x":0.1007,"y":6,"v":-0.35},{"x":0.3043,"y":6,"v":-0.5},{"x":0.3297,"y":6,"v":-0.35},{"x":0.5943,"y":6,"v":-0.6},
{"x":0.0,"y":5,"v":-0.2},{"x":0.0709,"y":5,"v":-0.5},{"x":0.1005,"y":5,"v":-0.3},{"x":0.2143,"y":5,"v":-0.35},{"x":0.3538,"y":5,"v":-0.38},{"x":0.376,"y":5,"v":-0.45},{"x":0.3841,"y":5,"v":-0.35},{"x":0.3974,"y":5,"v":-0.22},{"x":0.4943,"y":5,"v":-0.3},
{"x":0.1005,"y":4,"v":0.15},{"x":0.1221,"y":4,"v":-0.38},{"x":0.142,"y":4,"v":-0.4},{"x":0.1746,"y":4,"v":0.22},{"x":0.2011,"y":4,"v":-0.38},{"x":0.2765,"y":4,"v":0.1},{"x":0.2869,"y":4,"v":0.22},{"x":0.3538,"y":4,"v":-0.42},{"x":0.3693,"y":4,"v":-0.1},
{"x":0.1581,"y":3,"v":-0.45},{"x":0.2143,"y":3,"v":-0.35},{"x":0.3213,"y":3,"v":0.2},{"x":0.3974,"y":3,"v":-0.48},{"x":0.4877,"y":3,"v":-0.35}
]
},
"layer":[
{"data":{"name":"grid"},
 "mark":{"type":"rect","width":41,"height":50,"clip":true},
 "encoding":{
  "x":{"field":"x","type":"quantitative","scale":{"domain":[-0.0148,0.6212],"nice":false,"zero":false},
   "axis":{"values":[0,0.2,0.4,0.6],"format":".1f","grid":false,"domain":false,"tickSize":18,"tickWidth":2,"tickColor":"black","labelFont":"Lato","labelFontSize":46,"labelColor":"black","labelPadding":10,"labelFlush":false,"labelOverlap":false,
    "title":["Proportion native  grass cover (transformed)","in control 'unburned' sites"],"titleFont":"Lato","titleFontSize":49,"titleFontWeight":"normal","titleColor":"black","titleLineHeight":61,"titleX":540,"titleY":93,"titleAlign":"center","titleBaseline":"top"}},
  "y":{"field":"y","type":"quantitative","scale":{"domain":[2.751,13.229],"nice":false,"zero":false},
   "axis":{"values":[4,6,8,10,12],"format":"d","grid":false,"domain":false,"tickSize":16,"tickWidth":2,"tickColor":"black","labelFont":"DejaVu Sans","labelFontSize":36,"labelColor":"black","labelPadding":14,"labelFlush":false,"labelOverlap":false,
    "title":"Elapsed  time  since  fire","titleFont":"Lato","titleFontSize":53,"titleFontWeight":"normal","titleColor":"black","titleAngle":-90,"titleX":-175,"titleY":514,"titleAlign":"center","titleBaseline":"middle"}},
  "color":{"field":"v","type":"quantitative","scale":{"domain":[-1.36,-0.53,0.31],"range":["#6a9bea","#ffffff","#e07070"],"interpolate":"rgb","clamp":true},"legend":null}
 }},
{"data":{"name":"lines"},
 "mark":{"type":"line","color":"#111111","strokeWidth":2,"interpolate":"monotone","clip":true},
 "encoding":{"x":{"field":"x","type":"quantitative"},"y":{"field":"y","type":"quantitative"},"detail":{"field":"c"}}},
{"data":{"name":"pts"},
 "mark":{"type":"point","shape":"circle","filled":true,"size":250,"stroke":"#111111","strokeWidth":2,"opacity":1},
 "encoding":{"x":{"field":"x","type":"quantitative"},"y":{"field":"y","type":"quantitative"},
  "fill":{"field":"v","type":"quantitative","scale":{"domain":[-1.36,-0.53,0.31],"range":["#6a9bea","#ffffff","#e07070"],"interpolate":"rgb","clamp":true},"legend":null}}},
{"data":{"name":"labels"},
 "mark":{"type":"text","font":"Liberation Sans","fontSize":32,"color":"#111111","align":"center","baseline":"middle"},
 "encoding":{"x":{"field":"x","type":"quantitative"},"y":{"field":"y","type":"quantitative"},"text":{"field":"t"}}},
{"data":{"values":[{"t":"Shading topography"}]},
 "mark":{"type":"text","font":"Lato","fontSize":44,"color":"black","align":"center","baseline":"middle","clip":false},
 "encoding":{"x":{"datum":0.7965,"type":"quantitative"},"y":{"datum":8.875,"type":"quantitative"},"text":{"field":"t"}}},
{"data":{"values":[{"t":"="}]},
 "mark":{"type":"text","font":"Lato","fontSize":44,"color":"black","align":"right","baseline":"middle","dx":-6,"clip":false},
 "encoding":{"x":{"datum":0.716,"type":"quantitative"},"y":{"datum":8.298,"type":"quantitative"},"text":{"field":"t"}}},
{"data":{"values":[{"t":"degree of shift"}]},
 "mark":{"type":"text","font":"Lato","fontSize":44,"fontWeight":"bold","color":"black","align":"left","baseline":"middle","dx":6,"clip":false},
 "encoding":{"x":{"datum":0.716,"type":"quantitative"},"y":{"datum":8.298,"type":"quantitative"},"text":{"field":"t"}}},
{"data":{"values":[{"t":"in native herbaceous"}]},
 "mark":{"type":"text","font":"Lato","fontSize":44,"color":"black","align":"center","baseline":"middle","clip":false},
 "encoding":{"x":{"datum":0.7965,"type":"quantitative"},"y":{"datum":7.707,"type":"quantitative"},"text":{"field":"t"}}},
{"data":{"values":[{"t":"dominance pre- to post-fire:"}]},
 "mark":{"type":"text","font":"Lato","fontSize":44,"color":"black","align":"center","baseline":"middle","clip":false},
 "encoding":{"x":{"datum":0.7965,"type":"quantitative"},"y":{"datum":7.116,"type":"quantitative"},"text":{"field":"t"}}}
]
}
